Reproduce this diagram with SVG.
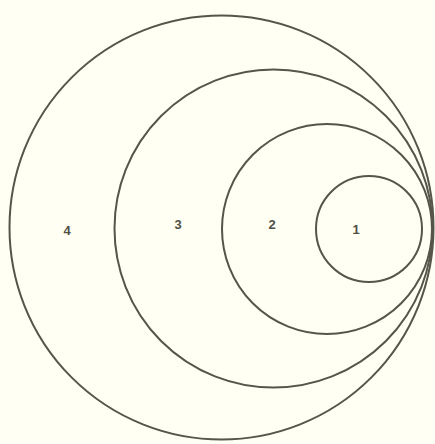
<svg xmlns="http://www.w3.org/2000/svg" width="435" height="444" viewBox="0 0 435 444">
<style>
.c{fill:none;stroke:#55554a;stroke-width:2}
.t{font-family:"Liberation Sans",sans-serif;font-size:13px;font-weight:bold;fill:#505046;text-anchor:middle}
</style>
<rect width="435" height="444" fill="#fffff4"/>
<g id="n4"><circle class="c" cx="221.5" cy="227.5" r="212"/><text class="t" x="67" y="235">4</text></g>
<g id="n3"><circle class="c" cx="273.5" cy="228.5" r="159"/><text class="t" x="178" y="229">3</text></g>
<g id="n2"><circle class="c" cx="327" cy="229" r="105"/><text class="t" x="272" y="229">2</text></g>
<g id="n1"><circle class="c" cx="369" cy="229" r="53"/><text class="t" x="356" y="234">1</text></g>
<g id="connectors"/>
</svg>
